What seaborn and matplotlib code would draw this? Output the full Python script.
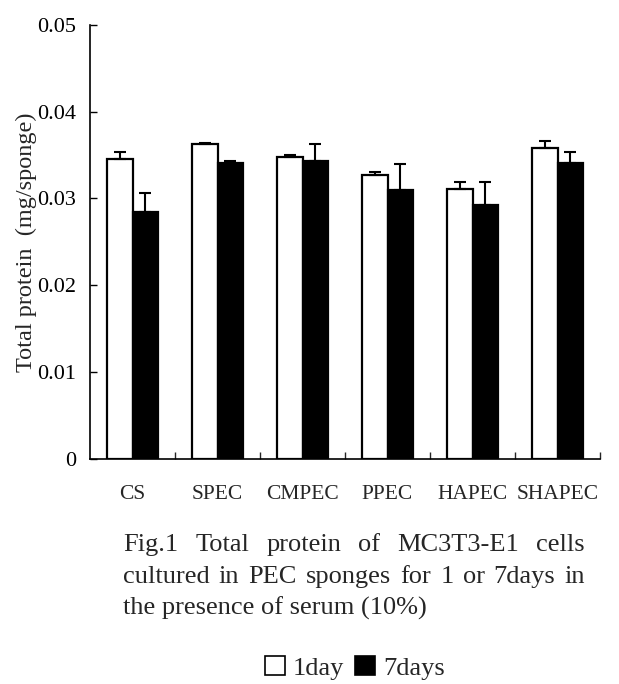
import matplotlib
matplotlib.use("Agg")
import matplotlib.pyplot as plt
from matplotlib.patches import Patch
import seaborn as sns
import pandas as pd
import numpy as np

categories = ["CS", "SPEC", "CMPEC", "PPEC", "HAPEC", "SHAPEC"]
day1_values = [0.0346, 0.0363, 0.0348, 0.0327, 0.0311, 0.0358]
day1_errors = [0.0008, 0.0001, 0.0002, 0.0004, 0.0008, 0.0008]
day7_values = [0.0284, 0.0341, 0.0343, 0.0310, 0.0292, 0.0341]
day7_errors = [0.0022, 0.0002, 0.0020, 0.0030, 0.0027, 0.0012]
series = ["1day", "7days"]
yticks = [0, 0.01, 0.02, 0.03, 0.04, 0.05]
ytick_labels = ["0", "0.01", "0.02", "0.03", "0.04", "0.05"]
caption_lines = [
    "Fig.1 Total protein of MC3T3-E1 cells",
    "cultured in PEC sponges for 1 or 7days in",
    "the presence of serum (10%)",
]

sns.set_theme(style="ticks")
plt.rcParams["font.family"] = ["Liberation Serif", "DejaVu Serif"]

df = pd.DataFrame({
    "cat": categories * 2,
    "day": [series[0]] * len(categories) + [series[1]] * len(categories),
    "val": day1_values + day7_values,
})

fig = plt.figure(figsize=(6.19, 6.84), dpi=100)
ax = fig.add_axes([90 / 619, 1 - 458.5 / 684, 510 / 619, 433.5 / 684])

sns.barplot(data=df, x="cat", y="val", hue="day", order=categories,
            hue_order=series, palette={"1day": "white", "7days": "black"},
            edgecolor="black", linewidth=1.6, width=0.6, errorbar=None,
            legend=False, ax=ax, saturation=1)

for cont, errs in zip(ax.containers, [day1_errors, day7_errors]):
    xs = [p.get_x() + p.get_width() / 2 for p in cont]
    ys = [p.get_height() for p in cont]
    ax.errorbar(xs, ys, yerr=[np.zeros(len(errs)), errs], fmt="none",
                ecolor="black", elinewidth=1.5, capsize=4, capthick=1.5, zorder=5)

ax.set_xlim(-0.5, len(categories) - 0.5)
ax.set_ylim(0, 0.05)
ax.set_yticks(yticks)
ax.set_yticklabels(ytick_labels, fontsize=16)
ax.tick_params(axis="y", direction="in", length=5, width=1, pad=10, colors="black")
ax.set_xticks(range(len(categories)))
ax.set_xticklabels(categories, fontsize=15.5)
ax.tick_params(axis="x", which="major", length=0, pad=19)
ax.set_xticks(np.arange(0.5, len(categories), 1), minor=True)
ax.tick_params(axis="x", which="minor", direction="in", length=5, width=1)
ax.set_xlabel("")
ax.set_ylabel("Total protein  (mg/sponge)", fontsize=17.5, labelpad=0)
for s in ["top", "right"]:
    ax.spines[s].set_visible(False)
for s in ["left", "bottom"]:
    ax.spines[s].set_linewidth(1.2)
    ax.spines[s].set_color("black")

# justified caption
fig.canvas.draw()
renderer = fig.canvas.get_renderer()
x0, x1 = 123 / 619, 585 / 619
line_y = [1 - 545 / 684, 1 - 577 / 684, 1 - 608 / 684]
fs = 19
for i, (line, y) in enumerate(zip(caption_lines, line_y)):
    if i == len(caption_lines) - 1:
        fig.text(x0, y, line, fontsize=fs, va="center", ha="left")
        continue
    words = line.split()
    widths = []
    for w in words:
        t = fig.text(0, 0, w, fontsize=fs)
        bb = t.get_window_extent(renderer)
        widths.append(bb.width / fig.bbox.width)
        t.remove()
    gap = (x1 - x0 - sum(widths)) / (len(words) - 1)
    x = x0
    for w, wd in zip(words, widths):
        fig.text(x, y, w, fontsize=fs, va="center", ha="left")
        x += wd + gap

handles = [Patch(facecolor="white", edgecolor="black", linewidth=1.2),
           Patch(facecolor="black", edgecolor="black", linewidth=1.2)]
fig.legend(handles, series, loc="center", bbox_to_anchor=(355 / 619, 1 - 668 / 684),
           ncol=2, frameon=False, handlelength=0.75, handleheight=0.75,
           handletextpad=0.3, columnspacing=0.4, prop={"size": 19})

fig.savefig("out.png", dpi=100)
